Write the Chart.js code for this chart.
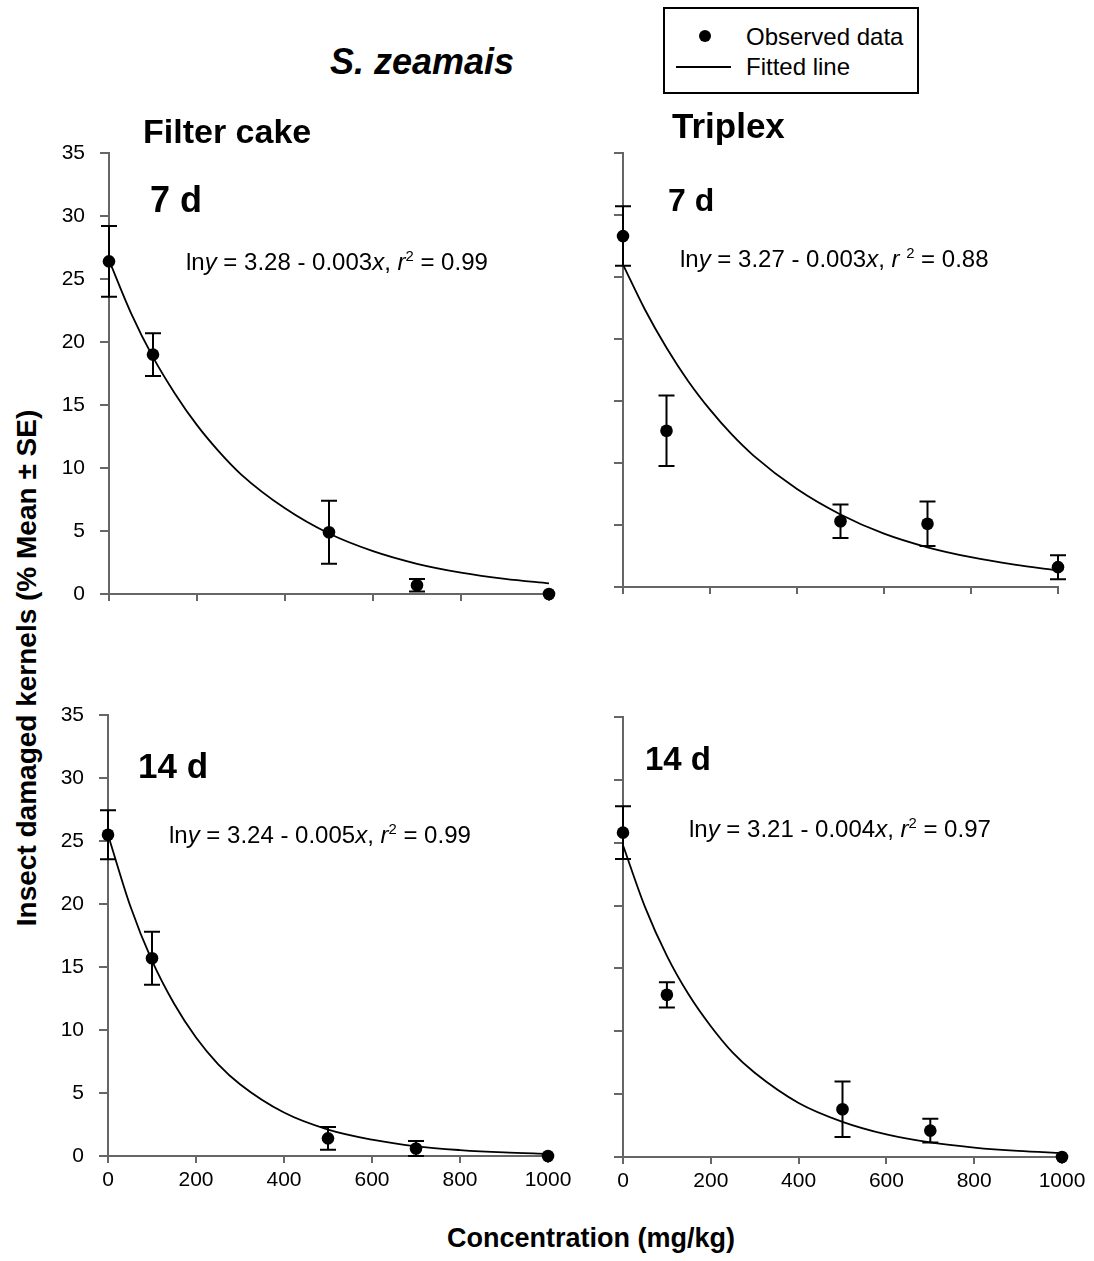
<!DOCTYPE html>
<html><head><meta charset="utf-8">
<script src="https://cdn.jsdelivr.net/npm/chart.js@4"></script>
<style>
html,body{margin:0;padding:0;background:#fff}
body{width:1094px;height:1261px;position:relative;overflow:hidden;font-family:"Liberation Sans",Arial,sans-serif;color:#000}
canvas{position:absolute}
.t{position:absolute;white-space:nowrap;line-height:1}
.sup{font-size:0.62em;position:relative;top:-0.6em}
</style></head><body>
<script>
// ---- data ----
const concentrations = [0, 100, 500, 700, 1000];
const xTicks = [0, 200, 400, 600, 800, 1000];
const yTicks = [0, 5, 10, 15, 20, 25, 30, 35];
const fitX = [0, 50, 100, 150, 200, 250, 300, 400, 500, 600, 700, 800, 900, 1000];

const filterCake7dMean = [26.4, 19.0, 4.9, 0.7, 0.0];
const filterCake7dSE   = [2.8, 1.7, 2.5, 0.5, 0];
const filterCake7dFit  = [26.5, 22.3, 18.8, 15.9, 13.4, 11.3, 9.5, 6.8, 4.8, 3.4, 2.4, 1.7, 1.2, 0.85];

const triplex7dMean = [28.3, 12.6, 5.3, 5.1, 1.6];
const triplex7dSE   = [2.4, 2.85, 1.35, 1.8, 0.97];
const triplex7dFit  = [26.0, 22.4, 19.3, 16.6, 14.3, 12.3, 10.6, 7.9, 5.85, 4.3, 3.2, 2.4, 1.8, 1.33];

const filterCake14dMean = [25.5, 15.7, 1.4, 0.6, 0.0];
const filterCake14dSE   = [1.95, 2.1, 0.9, 0.6, 0];
const filterCake14dFit  = [25.5, 19.9, 15.5, 12.1, 9.4, 7.3, 5.7, 3.45, 2.1, 1.3, 0.77, 0.47, 0.28, 0.17];

const triplex14dMean = [25.8, 12.9, 3.8, 2.1, 0.0];
const triplex14dSE   = [2.1, 1.0, 2.2, 0.95, 0];
const triplex14dFit  = [24.8, 19.9, 16.0, 12.9, 10.4, 8.3, 6.7, 4.3, 2.8, 1.8, 1.16, 0.75, 0.48, 0.31];

// ---- drawing ----
const FONT = '"Liberation Sans", Arial, sans-serif';
const AXIS = '#666666';

const errorBarPlugin = {
  id: 'errorBars',
  afterDatasetsDraw(chart) {
    const ctx = chart.ctx, xs = chart.scales.x, ys = chart.scales.y;
    chart.data.datasets.forEach(ds => {
      if (!ds.errors) return;
      ctx.save();
      ctx.strokeStyle = '#000';
      ctx.lineWidth = 2;
      ds.data.forEach((p, i) => {
        const e = ds.errors[i];
        if (!e) return;
        const x = xs.getPixelForValue(p.x);
        const y1 = ys.getPixelForValue(p.y + e);
        const y2 = ys.getPixelForValue(p.y - e);
        ctx.beginPath();
        ctx.moveTo(x, y1); ctx.lineTo(x, y2);
        ctx.moveTo(x - 8, y1); ctx.lineTo(x + 8, y1);
        ctx.moveTo(x - 8, y2); ctx.lineTo(x + 8, y2);
        ctx.stroke();
      });
      ctx.restore();
    });
  }
};

function makePanel(left, top, width, height, mean, se, fit, showX, showY) {
  const c = document.createElement('canvas');
  c.width = width; c.height = height;
  c.style.left = left + 'px'; c.style.top = top + 'px';
  c.style.width = width + 'px'; c.style.height = height + 'px';
  document.body.appendChild(c);
  new Chart(c, {
    type: 'scatter',
    data: {
      datasets: [
        {
          label: 'Observed data',
          data: concentrations.map((x, i) => ({x: x, y: mean[i]})),
          errors: se,
          pointRadius: 6.3, pointHoverRadius: 6.3,
          pointBackgroundColor: '#000', pointBorderColor: '#000', pointBorderWidth: 0,
          clip: false
        },
        {
          label: 'Fitted line',
          data: fitX.map((x, i) => ({x: x, y: fit[i]})),
          showLine: true, borderColor: '#000', borderWidth: 1.8,
          pointRadius: 0, pointHoverRadius: 0,
          cubicInterpolationMode: 'monotone', clip: false
        }
      ]
    },
    options: {
      responsive: false, animation: false, devicePixelRatio: 1, events: [],
      layout: {padding: {left: 0, top: 15, right: 25, bottom: 0}},
      plugins: {legend: {display: false}, tooltip: {enabled: false}},
      scales: {
        x: {
          type: 'linear', min: 0, max: 1000,
          afterBuildTicks: s => { s.ticks = xTicks.map(v => ({value: v})); },
          afterFit: s => { s.height = 45; s.paddingLeft = 0; s.paddingRight = 0; },
          grid: {drawOnChartArea: false, drawTicks: true, tickLength: 7, color: AXIS, lineWidth: 2},
          border: {display: true, color: AXIS, width: 2},
          ticks: {display: showX, color: '#000', font: {family: FONT, size: 21}, padding: 5,
                  maxRotation: 0, autoSkip: false, callback: v => String(v)}
        },
        y: {
          type: 'linear', min: 0, max: 35,
          afterBuildTicks: s => { s.ticks = yTicks.map(v => ({value: v})); },
          afterFit: s => { s.width = 55; s.paddingTop = 0; s.paddingBottom = 0; },
          grid: {drawOnChartArea: false, drawTicks: true, tickLength: 9, color: AXIS, lineWidth: 2},
          border: {display: true, color: AXIS, width: 2},
          ticks: {display: showY, color: '#000', font: {family: FONT, size: 21}, padding: 15,
                  autoSkip: false, callback: v => String(v)}
        }
      }
    },
    plugins: [errorBarPlugin]
  });
}

makePanel(54, 138, 520, 501, filterCake7dMean, filterCake7dSE, filterCake7dFit, false, true);
makePanel(568, 138, 515, 494, triplex7dMean, triplex7dSE, triplex7dFit, false, false);
makePanel(53, 700, 520, 501, filterCake14dMean, filterCake14dSE, filterCake14dFit, true, true);
makePanel(568, 702, 519, 500, triplex14dMean, triplex14dSE, triplex14dFit, true, false);

// ---- text ----
function txt(html, left, baseline, size, weight, style) {
  const d = document.createElement('div');
  d.className = 't';
  d.innerHTML = html;
  d.style.left = left + 'px';
  d.style.top = (baseline - 0.8465 * size) + 'px';
  d.style.fontSize = size + 'px';
  d.style.fontWeight = weight || 'normal';
  d.style.fontStyle = style || 'normal';
  document.body.appendChild(d);
  return d;
}
txt('S. zeamais', 330, 74, 36, 'bold', 'italic');
txt('Filter cake', 143, 143, 34, 'bold');
txt('Triplex', 672, 138, 35, 'bold');
txt('7 d', 150, 212, 36, 'bold');
txt('7 d', 668, 211, 32, 'bold');
txt('14 d', 138, 778, 35, 'bold');
txt('14 d', 645, 770, 33, 'bold');
txt('ln<i>y</i> = 3.28 - 0.003<i>x</i>, <i>r</i><span class="sup">2</span> = 0.99', 186, 270, 24);
txt('ln<i>y</i> = 3.27 - 0.003<i>x</i>, <i>r</i> <span class="sup">2</span> = 0.88', 680, 267, 24);
txt('ln<i>y</i> = 3.24 - 0.005<i>x</i>, <i>r</i><span class="sup">2</span> = 0.99', 169, 843, 24);
txt('ln<i>y</i> = 3.21 - 0.004<i>x</i>, <i>r</i><span class="sup">2</span> = 0.97', 689, 837, 24);

const xt = txt('Concentration (mg/kg)', 0, 1248, 27, 'bold');
xt.style.left = '591px'; xt.style.transform = 'translateX(-50%)';

const yt = document.createElement('div');
yt.className = 't';
yt.textContent = 'Insect damaged kernels (% Mean \u00B1 SE)';
yt.style.cssText += 'left:27px;top:668px;font-size:28px;font-weight:bold;transform:translate(-50%,-50%) rotate(-90deg);';
document.body.appendChild(yt);

// legend
const box = document.createElement('div');
box.style.cssText = 'position:absolute;left:663px;top:7px;width:256px;height:87px;border:2px solid #000;box-sizing:border-box;';
document.body.appendChild(box);
const dot = document.createElement('div');
dot.style.cssText = 'position:absolute;left:699px;top:30px;width:12px;height:12px;border-radius:50%;background:#000;';
document.body.appendChild(dot);
const ln = document.createElement('div');
ln.style.cssText = 'position:absolute;left:676px;top:66px;width:55px;height:2px;background:#000;';
document.body.appendChild(ln);
txt('Observed data', 746, 45, 24);
txt('Fitted line', 746, 75, 24);
</script>
</body></html>
